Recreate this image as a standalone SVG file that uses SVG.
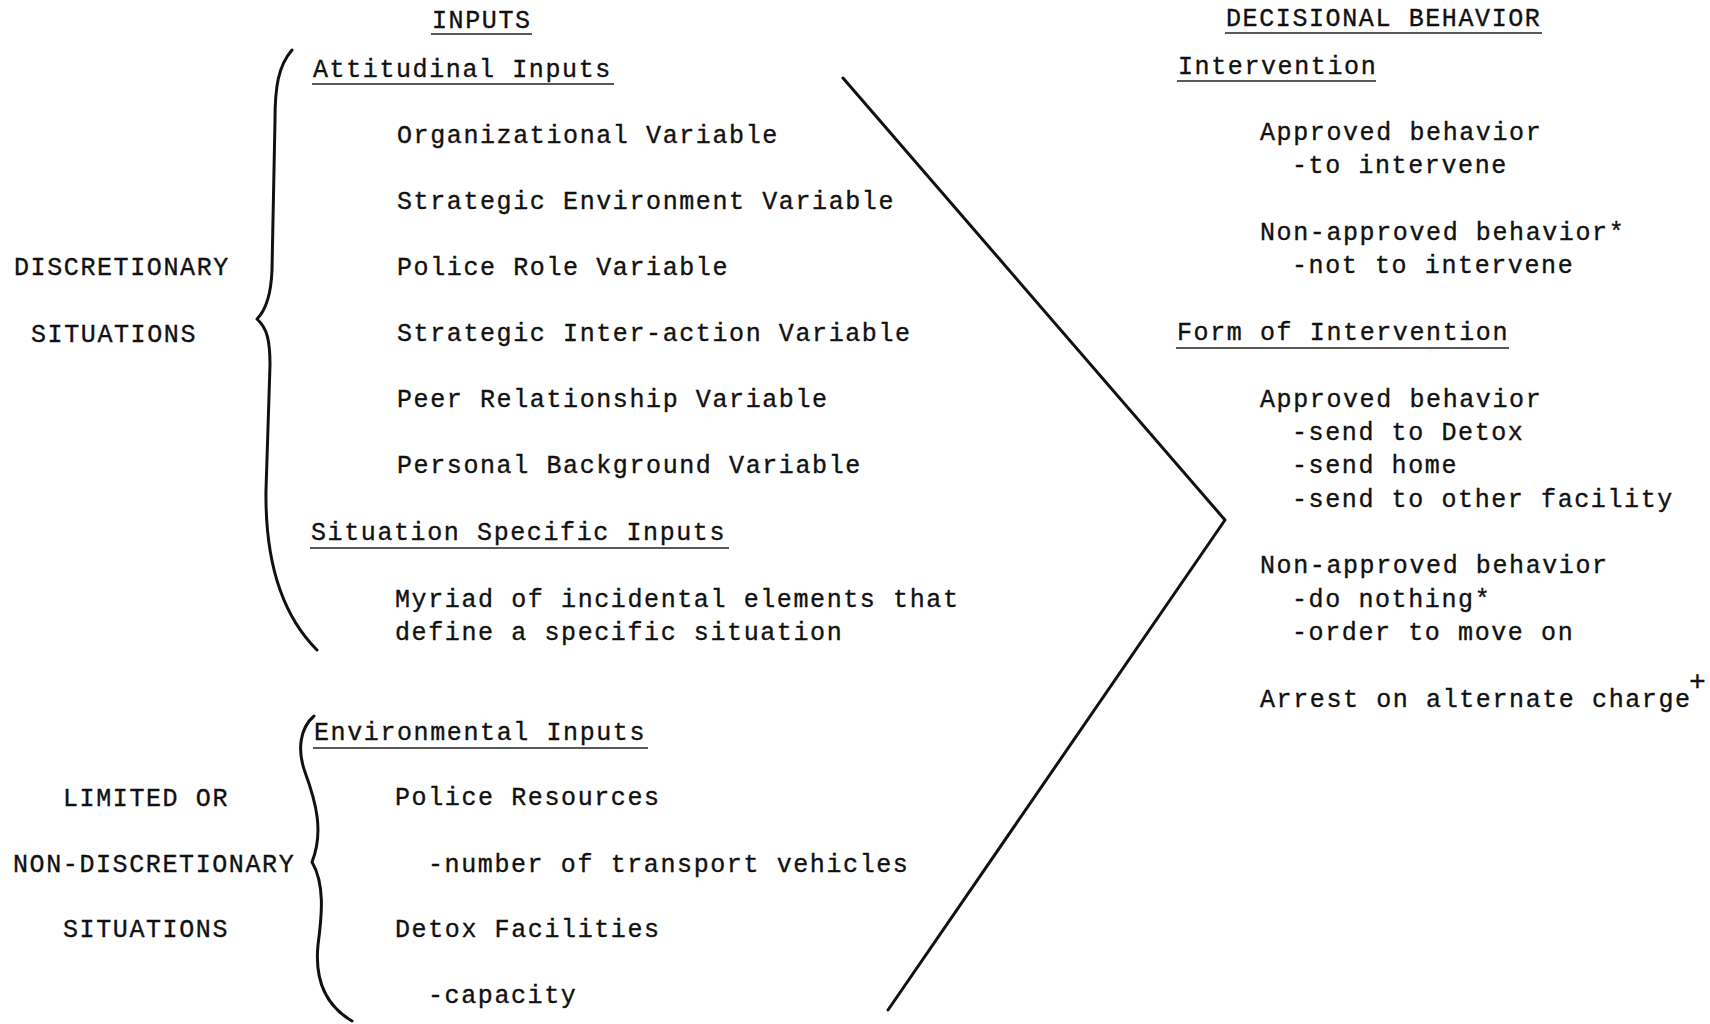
<svg xmlns="http://www.w3.org/2000/svg" width="1710" height="1024" viewBox="0 0 1710 1024">
<style>
text{font-family:"Liberation Mono","Courier New",monospace;font-size:25px;letter-spacing:1.6px;fill:#111;stroke:#111;stroke-width:0.35}
.sup{font-size:28px}
.ul{stroke:#222;stroke-width:1.6}
.ln{fill:none;stroke:#111;stroke-width:3;stroke-linecap:round;stroke-linejoin:round}
</style>
<rect width="1710" height="1024" fill="#fff"/>
<g id="inputs-header"><text x="432" y="28">INPUTS</text><line class="ul" x1="431" y1="34" x2="532" y2="34"/></g>
<g id="decisional-header"><text x="1226" y="26">DECISIONAL BEHAVIOR</text><line class="ul" x1="1225" y1="33" x2="1542" y2="33"/></g>
<g id="discretionary-label"><text x="14" y="275">DISCRETIONARY</text><text x="31" y="342">SITUATIONS</text></g>
<g id="nondiscretionary-label"><text x="63" y="806">LIMITED OR</text><text x="13" y="872">NON-DISCRETIONARY</text><text x="63" y="937">SITUATIONS</text></g>
<g id="attitudinal-inputs">
<text x="313" y="77">Attitudinal Inputs</text><line class="ul" x1="312" y1="84" x2="614" y2="84"/>
<text x="397" y="143">Organizational Variable</text>
<text x="397" y="209">Strategic Environment Variable</text>
<text x="397" y="275">Police Role Variable</text>
<text x="397" y="341">Strategic Inter-action Variable</text>
<text x="397" y="407">Peer Relationship Variable</text>
<text x="397" y="473">Personal Background Variable</text>
</g>
<g id="situation-inputs">
<text x="311" y="540">Situation Specific Inputs</text><line class="ul" x1="310" y1="548" x2="729" y2="548"/>
<text x="395" y="607">Myriad of incidental elements that</text>
<text x="395" y="640">define a specific situation</text>
</g>
<g id="environmental-inputs">
<text x="314" y="740">Environmental Inputs</text><line class="ul" x1="313" y1="748" x2="648" y2="748"/>
<text x="395" y="805">Police Resources</text>
<text x="428" y="872">-number of transport vehicles</text>
<text x="395" y="937">Detox Facilities</text>
<text x="428" y="1003">-capacity</text>
</g>
<g id="intervention">
<text x="1178" y="74">Intervention</text><line class="ul" x1="1177" y1="81" x2="1376" y2="81"/>
<text x="1260" y="140">Approved behavior</text>
<text x="1292" y="173">-to intervene</text>
<text x="1260" y="240">Non-approved behavior*</text>
<text x="1292" y="273">-not to intervene</text>
</g>
<g id="form-of-intervention">
<text x="1177" y="340">Form of Intervention</text><line class="ul" x1="1176" y1="348" x2="1509" y2="348"/>
<text x="1260" y="407">Approved behavior</text>
<text x="1292" y="440">-send to Detox</text>
<text x="1292" y="473">-send home</text>
<text x="1292" y="507">-send to other facility</text>
<text x="1260" y="573">Non-approved behavior</text>
<text x="1292" y="607">-do nothing*</text>
<text x="1292" y="640">-order to move on</text>
<text x="1260" y="707">Arrest on alternate charge</text>
<text class="sup" x="1689" y="690">+</text>
</g>
<g id="connectors">
<path class="ln" d="M 292 50 C 278 66, 275 88, 275 120 L 272 270 C 271 296, 266 310, 257 319 C 267 328, 270 340, 270 365 L 266 490 C 265 560, 282 615, 317 650"/>
<path class="ln" d="M 314 716 C 300 728, 297 750, 305 772 C 316 802, 324 832, 312 862 C 325 884, 322 915, 318 945 C 314 985, 330 1008, 352 1021"/>
<polyline class="ln" points="843,78 1225,520 888,1010"/>
</g>
</svg>
